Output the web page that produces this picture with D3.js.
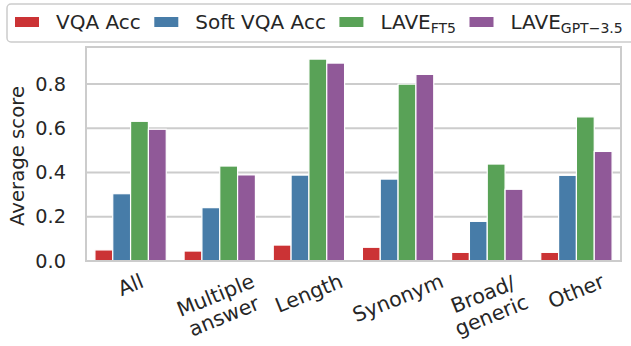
<!DOCTYPE html>
<html>
<head>
<meta charset="utf-8">
<script src="https://cdn.jsdelivr.net/npm/d3@7"></script>
<style>
  body { margin: 0; background: #fff; }
  text { font-family: "DejaVu Sans", sans-serif; fill: #262626; }
</style>
</head>
<body>
<svg width="631" height="346"></svg>
<script>
// Data
const categories = ["All", "Multiple\nanswer", "Length", "Synonym", "Broad/\ngeneric", "Other"];
const seriesNames = ["VQA Acc", "Soft VQA Acc", "LAVE_FT5", "LAVE_GPT-3.5"];
const vqaAcc     = [0.050, 0.045, 0.072, 0.062, 0.039, 0.039];
const softVqaAcc = [0.304, 0.241, 0.388, 0.370, 0.179, 0.387];
const laveFt5    = [0.631, 0.429, 0.912, 0.799, 0.438, 0.651];
const laveGpt    = [0.595, 0.389, 0.894, 0.843, 0.324, 0.495];
const yTicks = [0, 0.2, 0.4, 0.6, 0.8];

const seriesValues = [vqaAcc, softVqaAcc, laveFt5, laveGpt];
const colors = ["#cb3335", "#477ca8", "#59a257", "#905998"];

const plot = {left: 86, right: 621, top: 47, bottom: 261};
const grid = "#cccccc";

const svg = d3.select("svg");

// Scales
const x = d3.scaleBand()
            .domain(d3.range(categories.length))
            .range([plot.left, plot.right])
            .paddingInner(0.2)
            .paddingOuter(0.1);

const xSub = d3.scaleBand()
               .domain(d3.range(seriesNames.length))
               .range([0, x.bandwidth()]);

const y = d3.scaleLinear()
            .domain([0, d3.max(seriesValues.flat()) * 1.06])
            .range([plot.bottom, plot.top]);

// Horizontal grid lines
svg.append("g")
   .selectAll("line")
   .data(yTicks.slice(1))
   .enter()
   .append("line")
   .attr("x1", plot.left)
   .attr("x2", plot.right)
   .attr("y1", d => y(d))
   .attr("y2", d => y(d))
   .attr("stroke", grid)
   .attr("stroke-width", 2);

// Bars
const rows = [];
seriesValues.forEach((vals, s) => vals.forEach((v, c) => rows.push({s, c, v})));

svg.append("g")
   .selectAll("rect")
   .data(rows)
   .enter()
   .append("rect")
   .attr("x", d => x(d.c) + xSub(d.s))
   .attr("y", d => y(d.v))
   .attr("width", xSub.bandwidth())
   .attr("height", d => y(0) - y(d.v))
   .attr("fill", d => colors[d.s])
   .attr("stroke", "#fff")
   .attr("stroke-width", 1.2);

// Spines (box)
svg.append("rect")
   .attr("x", plot.left)
   .attr("y", plot.top)
   .attr("width", plot.right - plot.left)
   .attr("height", plot.bottom - plot.top)
   .attr("fill", "none")
   .attr("stroke", grid)
   .attr("stroke-width", 2);

// Y axis via d3 axis, then styled
const yAxis = svg.append("g")
                 .attr("transform", `translate(${plot.left},0)`)
                 .call(d3.axisLeft(y).tickValues(yTicks).tickFormat(d3.format(".1f")).tickSize(0).tickPadding(20));
yAxis.select(".domain").remove();
yAxis.selectAll("text")
     .attr("font-size", "19.3px")
     .attr("font-family", "DejaVu Sans")
     .attr("fill", "#262626");

// Y label
svg.append("text")
   .attr("transform", `translate(17,${(plot.top + plot.bottom) / 2 + 2}) rotate(-90)`)
   .attr("text-anchor", "middle")
   .attr("dominant-baseline", "central")
   .style("font-size", "19.7px")
   .text("Average score");

// X tick labels, rotated like matplotlib (bbox top aligned)
const angle = 22;
const rad = angle * Math.PI / 180;
const labelTop = 269;
categories.forEach((cat, i) => {
  const g = svg.append("g");
  const t = g.append("text")
             .attr("text-anchor", "middle")
             .style("font-size", "20.5px");
  cat.split("\n").forEach((line, k) => {
    t.append("tspan").attr("x", 0).attr("dy", k === 0 ? 0 : "1.1em").text(line);
  });
  const b = t.node().getBBox();
  const H = b.width * Math.sin(rad) + b.height * Math.cos(rad);
  const cx = x(i) + x.bandwidth() / 2;
  const bx = b.x + b.width / 2, by = b.y + b.height / 2;
  g.attr("transform", `translate(${cx},${labelTop + H / 2}) rotate(${-angle}) translate(${-bx},${-by})`);
});

// Legend
const legend = svg.append("g");
legend.append("rect")
      .attr("x", 7)
      .attr("y", 4)
      .attr("width", 630)
      .attr("height", 38)
      .attr("rx", 4)
      .attr("fill", "#fff")
      .attr("stroke", grid)
      .attr("stroke-width", 1.5);

let lx = 15;
seriesNames.forEach((name, i) => {
  legend.append("rect")
        .attr("x", lx)
        .attr("y", 17)
        .attr("width", 24)
        .attr("height", 10)
        .attr("fill", colors[i]);
  const t = legend.append("text")
                  .attr("x", lx + 41)
                  .attr("y", 29)
                  .style("font-size", "20px");
  const parts = name.split("_");
  t.append("tspan").text(parts[0]);
  if (parts[1]) {
    t.append("tspan")
     .attr("dy", 4)
     .style("font-size", "14px")
     .text(parts[1].replace("-", "\u2212"));
  }
  lx = lx + 41 + t.node().getComputedTextLength() + 13.5;
});
</script>
</body>
</html>
